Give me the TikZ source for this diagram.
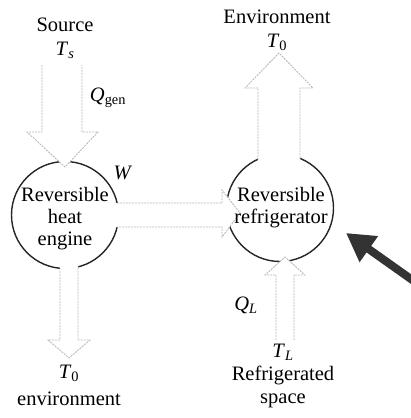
\documentclass[tikz,border=0pt]{standalone}
\usepackage{fontspec}
\setmainfont{Liberation Serif}
\usetikzlibrary{arrows.meta}
\begin{document}
\begin{tikzpicture}[x=1pt,y=-1pt, font=\fontsize{20.5}{22}\selectfont,
  ring/.style={draw=black!85, line width=1.4pt, circle, minimum size=107pt, inner sep=0pt},
  hollow/.style={draw=gray!55, line width=0.9pt, dash pattern=on 2pt off 1pt},
  lbl/.style={inner sep=0pt, align=center}]
\useasboundingbox (0,0) rectangle (411,418);
% machines
\node[ring] (eng) at (65,215) {};
\node[ring] (ref) at (280,208) {};
% Q_gen arrow (source -> engine)
\filldraw[hollow, fill=white] (42,65) -- (42,132) -- (27,132) -- (65,167) -- (98,132) -- (82,132) -- (82,65);
% W arrow (engine -> refrigerator)
\fill[white] (108,203) -- (222,203) -- (222,190) -- (240,213) -- (222,237) -- (222,227) -- (108,227) -- cycle;
\draw[hollow] (117,203) -- (222,203) -- (222,190) -- (240,213) -- (222,237) -- (222,227) -- (117,227);
% heat to environment (refrigerator -> top)
\fill[white] (258,168) -- (258,88) -- (245,88) -- (279,53) -- (313,88) -- (300,88) -- (300,168) -- cycle;
\draw[hollow] (258,160) -- (258,88) -- (245,88) -- (279,53) -- (313,88) -- (300,88) -- (300,159);
% heat rejected by engine (engine -> bottom)
\fill[white] (60,258) -- (60,340) -- (48,340) -- (69,358) -- (90,340) -- (78,340) -- (78,258) -- cycle;
\draw[hollow] (60,267.8) -- (60,340) -- (48,340) -- (69,358) -- (90,340) -- (78,340) -- (78,266.4);
% Q_L arrow (refrigerated space -> refrigerator)
\filldraw[hollow, fill=white] (276,340) -- (276,275) -- (265,275) -- (285,257) -- (305,275) -- (294,275) -- (294,340);
% dark pointer arrow
\coordinate (darktail) at (418,284);
\coordinate (darktip) at (346,233);
\draw[line width=8pt, draw=black!80, -{Triangle[length=28pt,width=30pt]}] (darktail) -- (darktip);
% texts
\node[lbl] (engtxt) at (65,219) {Reversible\\heat\\engine};
\node[lbl] (reftxt) at (281,208) {Reversible\\refrigerator};
\node[lbl] (src) at (65,25) {Source};
\node[lbl] (ts) at (65,50) {\textit{T}\textsubscript{\textit{s}}};
\node[lbl] (qgen) at (108,98) {\textit{Q}\textsubscript{gen}};
\node[lbl] (w) at (123,173) {\textit{W}};
\node[lbl] (env) at (277,17) {Environment};
\node[lbl] (t0a) at (277,42) {\textit{T}\textsubscript{0}};
\node[lbl] (t0b) at (69,373) {\textit{T}\textsubscript{0}};
\node[lbl] (envb) at (69,399) {environment};
\node[lbl] (ql) at (246,305) {\textit{Q}\textsubscript{\textit{L}}};
\node[lbl] (tl) at (283,352) {\textit{T}\textsubscript{\textit{L}}};
\node[lbl] (rs) at (283,375) {Refrigerated};
\node[lbl] (sp) at (283,401) {space};
\end{tikzpicture}
\end{document}
